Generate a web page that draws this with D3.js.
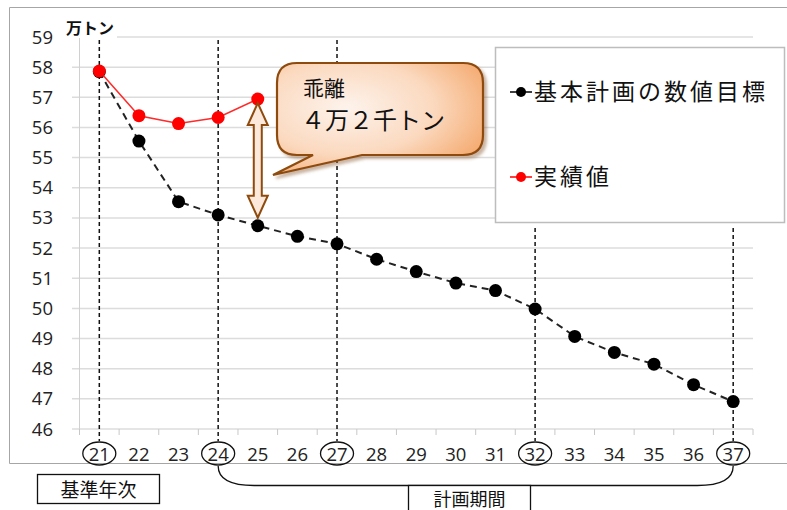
<!DOCTYPE html>
<html lang="ja">
<head>
  <meta charset="UTF-8">
  <title>基本計画の数値目標と実績値</title>
  <style>
    body { margin: 0; background: #fff; }
    svg { display: block; }
    .num { font-family: 'Open Sans', 'DejaVu Sans', sans-serif; fill: #222; }
    .jp { font-family: 'Noto Sans CJK JP', sans-serif; fill: #111; }
  </style>
  <script src="https://d3js.org/d3.v7.min.js"></script>
</head>
<body>
  <svg></svg>
  <script>
    // data (万トン)
    const years = ["21", "22", "23", "24", "25", "26", "27", "28", "29", "30", "31", "32", "33", "34", "35", "36", "37"];
    const planValues = [57.85, 55.55, 53.54, 53.10, 52.74, 52.39, 52.14, 51.63, 51.22, 50.84, 50.59, 49.98, 49.07, 48.54, 48.15, 47.47, 46.91];
    const actualYears = ["21", "22", "23", "24", "25"];
    const actualValues = [57.87, 56.39, 56.13, 56.33, 56.94];
    const yTicks = [46, 47, 48, 49, 50, 51, 52, 53, 54, 55, 56, 57, 58, 59];
    const markedYears = ["21", "24", "27", "32", "37"];
    const seriesNames = ["基本計画の数値目標", "実績値"];

    const width = 787, height = 510;
    const svg = d3.select("svg").attr("width", width).attr("height", height);

    const x = d3.scaleBand().domain(years).range([79.5, 753]);
    const y = d3.scaleLinear().domain([46, 59]).range([429, 37]);
    const cx = d => x(d) + x.bandwidth() / 2;

    const defs = svg.append("defs");
    const grad = defs.append("radialGradient").attr("id", "calloutFill")
      .attr("cx", "35%").attr("cy", "40%").attr("r", "75%");
    grad.append("stop").attr("offset", "0%").attr("stop-color", "#fdf3ec");
    grad.append("stop").attr("offset", "55%").attr("stop-color", "#fbd9bf");
    grad.append("stop").attr("offset", "100%").attr("stop-color", "#f4a86c");
    const shadow = defs.append("filter").attr("id", "shadow")
      .attr("x", "-10%").attr("y", "-10%").attr("width", "130%").attr("height", "140%");
    shadow.append("feDropShadow").attr("dx", 3).attr("dy", 3).attr("stdDeviation", 1.5)
      .attr("flood-color", "#8a5a30").attr("flood-opacity", 0.45);

    // outer frame
    svg.append("path")
      .attr("d", "M787,7.5 H9.5 V463.5 H787")
      .attr("fill", "none").attr("stroke", "#a6a6a6").attr("stroke-width", 1);

    // gridlines
    svg.append("g").selectAll("line").data(yTicks).join("line")
      .attr("x1", 72).attr("x2", 753)
      .attr("y1", d => y(d)).attr("y2", d => y(d))
      .attr("stroke", "#dcdcdc").attr("stroke-width", 1.5);

    // y axis line
    svg.append("line").attr("x1", 79.5).attr("x2", 79.5).attr("y1", y(59)).attr("y2", y(46))
      .attr("stroke", "#d0d0d0").attr("stroke-width", 1);

    // x axis ticks between categories
    const xb = years.map(d => x(d)).concat([x.range()[1]]);
    svg.append("g").selectAll("line").data(xb).join("line")
      .attr("x1", d => d).attr("x2", d => d).attr("y1", y(46)).attr("y2", y(46) + 6)
      .attr("stroke", "#c8c8c8").attr("stroke-width", 1);

    // y tick labels
    svg.append("g").selectAll("text").data(yTicks).join("text")
      .attr("class", "num")
      .attr("x", 53).attr("y", d => y(d) + 6.5)
      .attr("text-anchor", "end").attr("font-size", 18.5)
      .text(d => d);

    // unit label
    svg.append("rect").attr("x", 64).attr("y", 17).attr("width", 53).attr("height", 21).attr("fill", "#fff");
    svg.append("text").attr("class", "jp").attr("x", 66).attr("y", 34)
      .attr("font-size", 16).attr("font-weight", "bold").text("万トン");

    // x tick labels
    svg.append("g").selectAll("text").data(years).join("text")
      .attr("class", "num")
      .attr("x", d => cx(d)).attr("y", 460.5)
      .attr("text-anchor", "middle").attr("font-size", 18.5)
      .text(d => d);

    // vertical dashed markers
    svg.append("g").selectAll("line").data(markedYears).join("line")
      .attr("x1", d => cx(d)).attr("x2", d => cx(d))
      .attr("y1", d => (d === "32" || d === "37") ? 228 : 40).attr("y2", 441)
      .attr("stroke", "#111").attr("stroke-width", 1.5).attr("stroke-dasharray", "4,3");

    // ellipses around marked years
    svg.append("g").selectAll("ellipse").data(markedYears).join("ellipse")
      .attr("cx", d => cx(d)).attr("cy", 453.5).attr("rx", 16.5).attr("ry", 11.5)
      .attr("fill", "none").attr("stroke", "#111").attr("stroke-width", 1.3);

    // plan series
    const line = d3.line().x(d => cx(d[0])).y(d => y(d[1]));
    const planPts = years.map((d, i) => [d, planValues[i]]);
    svg.append("path").datum(planPts).attr("d", line)
      .attr("fill", "none").attr("stroke", "#222").attr("stroke-width", 2).attr("stroke-dasharray", "7,5");
    svg.append("g").selectAll("circle").data(planPts).join("circle")
      .attr("cx", d => cx(d[0])).attr("cy", d => y(d[1])).attr("r", 6.5).attr("fill", "#000");

    // actual series
    const actualPts = actualYears.map((d, i) => [d, actualValues[i]]);
    svg.append("path").datum(actualPts).attr("d", line)
      .attr("fill", "none").attr("stroke", "#ff2a2a").attr("stroke-width", 1.5);
    svg.append("g").selectAll("circle").data(actualPts).join("circle")
      .attr("cx", d => cx(d[0])).attr("cy", d => y(d[1])).attr("r", 6.5).attr("fill", "#ff0000");

    // legend
    const lg = svg.append("g");
    lg.append("rect").attr("x", 495.5).attr("y", 47.5).attr("width", 289).attr("height", 175)
      .attr("fill", "#fff").attr("stroke", "#bdbdbd").attr("stroke-width", 1.5);
    const legendColors = ["#000", "#ff0000"];
    const legendY = [92, 177];
    seriesNames.forEach((name, i) => {
      lg.append("line").attr("x1", 510).attr("x2", 532).attr("y1", legendY[i]).attr("y2", legendY[i])
        .attr("stroke", legendColors[i]).attr("stroke-width", 1.5);
      lg.append("circle").attr("cx", 521).attr("cy", legendY[i]).attr("r", 5).attr("fill", legendColors[i]);
      lg.append("text").attr("class", "jp").attr("x", 534).attr("y", legendY[i] + 8)
        .attr("font-size", 23).attr("letter-spacing", 3).text(name);
    });

    // double arrow between the two series at year 25
    const ax = cx("25"), ay1 = y(actualValues[4]) + 4, ay2 = y(planValues[4]) - 8;
    const hw = 10, sw = 4, hl = 22;
    svg.append("path")
      .attr("d", `M${ax},${ay1} L${ax + hw},${ay1 + hl} L${ax + sw},${ay1 + hl} L${ax + sw},${ay2 - hl}
        L${ax + hw},${ay2 - hl} L${ax},${ay2} L${ax - hw},${ay2 - hl} L${ax - sw},${ay2 - hl}
        L${ax - sw},${ay1 + hl} L${ax - hw},${ay1 + hl} Z`)
      .attr("fill", "#fde9db").attr("stroke", "#8f4b0e").attr("stroke-width", 2).attr("stroke-linejoin", "miter");

    // callout
    const l = 277, r = 483, t = 63, b = 155, rr = 20;
    svg.append("path")
      .attr("d", `M${l + rr},${t} H${r - rr} Q${r},${t} ${r},${t + rr} V${b - rr} Q${r},${b} ${r - rr},${b}
        H362 L273,175 L313,${b} H${l + rr} Q${l},${b} ${l},${b - rr} V${t + rr} Q${l},${t} ${l + rr},${t} Z`)
      .attr("fill", "url(#calloutFill)").attr("stroke", "#8f4b0e").attr("stroke-width", 2.2)
      .attr("filter", "url(#shadow)");
    svg.append("text").attr("class", "jp").attr("x", 303).attr("y", 96).attr("font-size", 21).text("乖離");
    svg.append("text").attr("class", "jp").attr("x", 301).attr("y", 129).attr("font-size", 24).text("４万２千トン");

    // bottom annotations
    svg.append("rect").attr("x", 37.5).attr("y", 474.5).attr("width", 122).attr("height", 29)
      .attr("fill", "#fff").attr("stroke", "#111").attr("stroke-width", 1.3);
    svg.append("text").attr("class", "jp").attr("x", 98.5).attr("y", 497)
      .attr("text-anchor", "middle").attr("font-size", 19).text("基準年次");

    const bx1 = cx("24"), bx2 = cx("37");
    svg.append("path")
      .attr("d", `M${bx1},466 C${bx1},480 ${bx1 + 14},485.5 ${bx1 + 36},485.5 H${bx2 - 36}
        C${bx2 - 14},485.5 ${bx2},480 ${bx2},466`)
      .attr("fill", "none").attr("stroke", "#111").attr("stroke-width", 1.3);
    svg.append("rect").attr("x", 408.5).attr("y", 485.5).attr("width", 122).attr("height", 40)
      .attr("fill", "#fff").attr("stroke", "#111").attr("stroke-width", 1.3);
    svg.append("text").attr("class", "jp").attr("x", 469.5).attr("y", 506)
      .attr("text-anchor", "middle").attr("font-size", 18).text("計画期間");
  </script>
</body>
</html>
